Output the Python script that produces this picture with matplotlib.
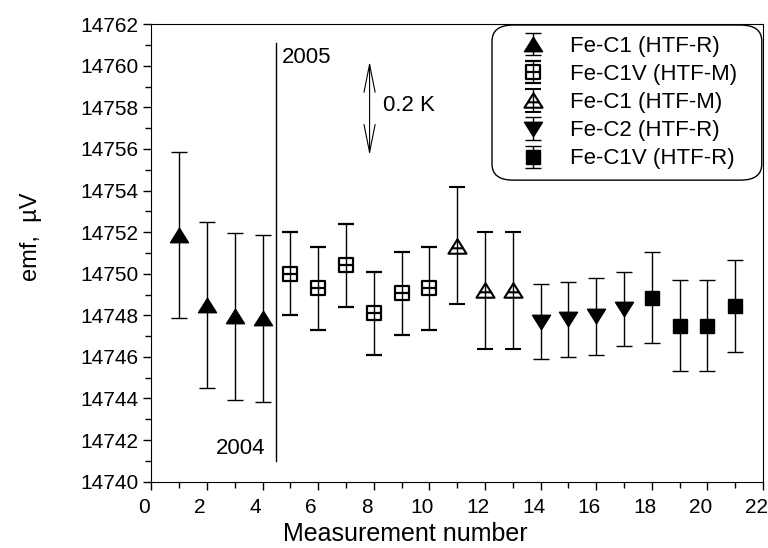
import numpy as np
import matplotlib
matplotlib.use('Agg')
import matplotlib.pyplot as plt
from matplotlib.path import Path
from matplotlib.patches import FancyBboxPatch
from matplotlib.ticker import MultipleLocator
from matplotlib.transforms import ScaledTranslation

plt.rcParams['font.family'] = ['Liberation Sans', 'DejaVu Sans']
plt.rcParams['font.size'] = 16

# measurement groups: x, emf (uV), error (uV)
c1_r_x = [1, 2, 3, 4]
c1_r_y = [14751.85, 14748.5, 14747.95, 14747.85]
c1_r_e = [4.0, 4.0, 4.0, 4.0]

c1v_m_x = [5, 6, 7, 8, 9, 10]
c1v_m_y = [14750.0, 14749.3, 14750.4, 14748.1, 14749.05, 14749.3]
c1v_m_e = [2.0, 2.0, 2.0, 2.0, 2.0, 2.0]

c1_m_x = [11, 12, 13]
c1_m_y = [14751.35, 14749.2, 14749.2]
c1_m_e = [2.8, 2.8, 2.8]

c2_r_x = [14, 15, 16, 17]
c2_r_y = [14747.7, 14747.8, 14747.95, 14748.3]
c2_r_e = [1.8, 1.8, 1.85, 1.8]

c1v_r_x = [18, 19, 20, 21]
c1v_r_y = [14748.85, 14747.5, 14747.5, 14748.45]
c1v_r_e = [2.2, 2.2, 2.2, 2.2]

labels = ['Fe-C1 (HTF-R)', 'Fe-C1V (HTF-M)', 'Fe-C1 (HTF-M)',
          'Fe-C2 (HTF-R)', 'Fe-C1V (HTF-R)']

# marker shapes: squat triangles, open ones with a bar across the middle
tri_up = Path([(-1, -0.8), (1, -0.8), (0, 0.8), (-1, -0.8)],
              [Path.MOVETO, Path.LINETO, Path.LINETO, Path.CLOSEPOLY])
tri_down = Path([(-1, 0.8), (1, 0.8), (0, -0.8), (-1, 0.8)],
                [Path.MOVETO, Path.LINETO, Path.LINETO, Path.CLOSEPOLY])
tri_open = Path([(-1, -0.8), (1, -0.8), (0, 0.8), (-1, -0.8), (-0.62, -0.2), (0.62, -0.2)],
                [Path.MOVETO, Path.LINETO, Path.LINETO, Path.CLOSEPOLY,
                 Path.MOVETO, Path.LINETO])
sq_open = Path([(-1, -1), (1, -1), (1, 1), (-1, 1), (-1, -1), (-1, 0), (1, 0)],
               [Path.MOVETO, Path.LINETO, Path.LINETO, Path.LINETO,
                Path.CLOSEPOLY, Path.MOVETO, Path.LINETO])

fmt_err = dict(color='black', ecolor='black', elinewidth=1.0, capsize=6,
               capthick=1.0, linestyle='none')

fig = plt.figure(figsize=(7.68, 5.48), dpi=100)
ax = fig.add_axes([0.197, 0.121, 0.7965, 0.835])

ax.errorbar(c1_r_x, c1_r_y, yerr=c1_r_e, marker=tri_up, markersize=13, label=labels[0], **fmt_err)
ax.errorbar(c1v_m_x, c1v_m_y, yerr=c1v_m_e, marker=sq_open, markersize=10, mfc='none',
            mew=1.6, label=labels[1], **fmt_err)
ax.errorbar(c1_m_x, c1_m_y, yerr=c1_m_e, marker=tri_open, markersize=13, mfc='none',
            mew=1.5, label=labels[2], **fmt_err)
ax.errorbar(c2_r_x, c2_r_y, yerr=c2_r_e, marker=tri_down, markersize=13, label=labels[3], **fmt_err)
ax.errorbar(c1v_r_x, c1v_r_y, yerr=c1v_r_e, marker='s', markersize=10, label=labels[4], **fmt_err)

# year separator and scale arrow
ax.plot([4.5, 4.5], [14741, 14761.1], color='black', lw=1)
ax.text(4.68, 14760.4, '2005', ha='left', va='center')
ax.text(4.1, 14741.6, '2004', ha='right', va='center')
ax.annotate('', xy=(7.85, 14755.7), xytext=(7.85, 14760.2),
            arrowprops=dict(arrowstyle='<->,head_length=1.0,head_width=0.2',
                            color='black', lw=0.8, shrinkA=0, shrinkB=0,
                            mutation_scale=20))
ax.text(8.35, 14758.1, '0.2 K', ha='left', va='center')

ax.set_xlim(0, 22)
ax.set_ylim(14740, 14762)
ax.xaxis.set_major_locator(MultipleLocator(2))
ax.xaxis.set_minor_locator(MultipleLocator(1))
ax.yaxis.set_major_locator(MultipleLocator(2))
ax.yaxis.set_minor_locator(MultipleLocator(1))
ax.tick_params(which='major', length=6, width=1, direction='out', labelsize=15)
ax.tick_params(which='minor', length=4, width=1, direction='out')
ax.tick_params(axis='x', pad=6)
ax.tick_params(axis='y', pad=3)
ax.ticklabel_format(axis='y', useOffset=False)

# x tick labels sit a little left of their ticks in the original
shift = ScaledTranslation(-7 / 100, 0, fig.dpi_scale_trans)
for lab in ax.get_xticklabels():
    lab.set_transform(lab.get_transform() + shift)

ax.set_xlabel('Measurement number', fontsize=18, labelpad=0)
ax.xaxis.set_label_coords(0.415, -0.088)
ax.set_ylabel('emf,  µV', fontsize=17)
ax.yaxis.set_label_coords(-0.178, 0.535)

# legend without its own frame; a rounded box is drawn behind it
leg = ax.legend(loc='upper left', bbox_to_anchor=(0.582, 0.974), borderaxespad=0,
                frameon=False, fontsize=16, handlelength=2.3, handletextpad=0.52,
                labelspacing=0.32, borderpad=0)
frame = FancyBboxPatch((0.557, 0.659), 0.441, 0.339, transform=ax.transAxes,
                       boxstyle='round,pad=0,rounding_size=0.035',
                       facecolor='white', edgecolor='black', lw=1.0, zorder=4)
ax.add_patch(frame)
leg.set_zorder(5)

fig.savefig('out.png', dpi=100)
